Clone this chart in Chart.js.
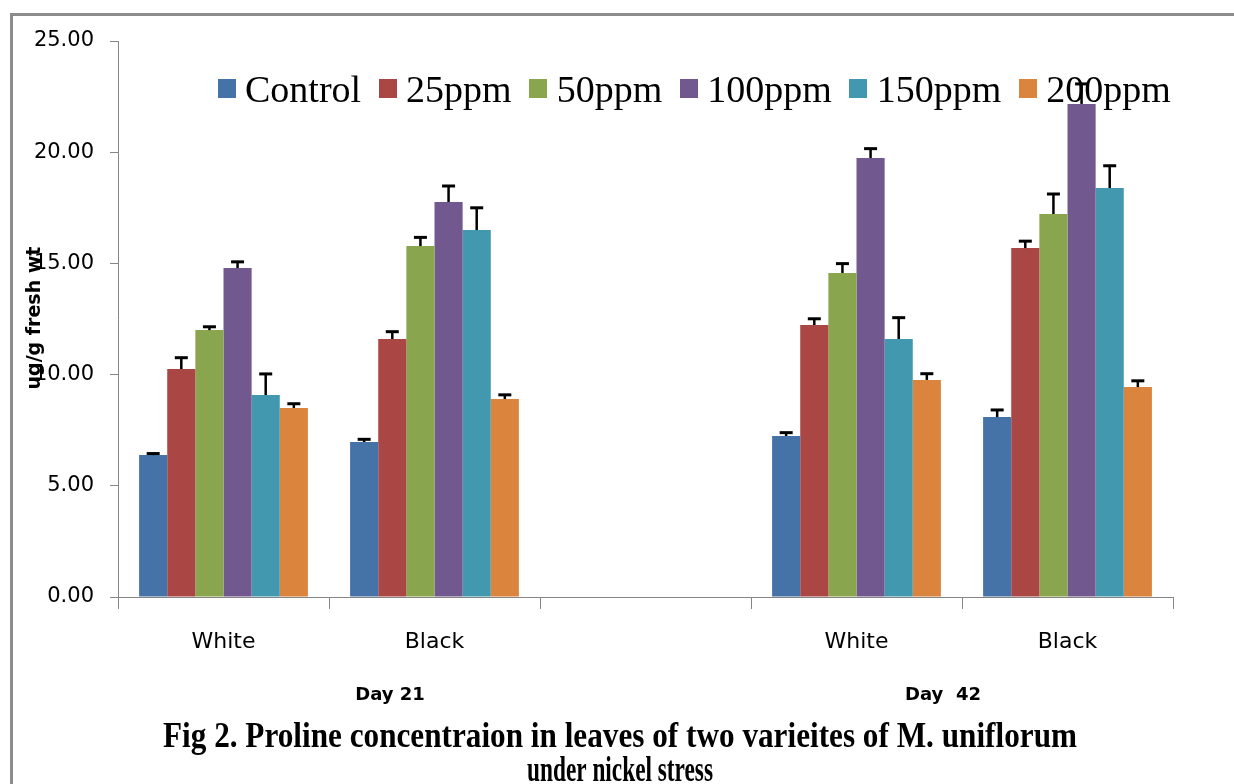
<!DOCTYPE html>
<html>
<head>
<meta charset="utf-8">
<script src="https://cdn.jsdelivr.net/npm/chart.js@4/dist/chart.umd.min.js"></script>
<style>
  html, body { margin: 0; padding: 0; background: #fff; }
  #wrap { position: relative; width: 1234px; height: 784px; overflow: hidden; }
  #frame { position: absolute; left: 10px; top: 13px; width: 1300px; height: 900px;
           border-left: 3px solid #8c8c8c; border-top: 3px solid #8c8c8c; pointer-events: none; }
  canvas { position: absolute; left: 0; top: 0; }
</style>
</head>
<body>
<div id="wrap">
  <canvas id="chart" width="1234" height="784"></canvas>
  <div id="frame"></div>
</div>
<script>
// Proline concentration (ug/g fresh wt) by variety, harvest day and nickel dose
const categories = ['White', 'Black', '', 'White', 'Black'];
const seriesNames = ['Control', '25ppm', '50ppm', '100ppm', '150ppm', '200ppm'];

const control = [6.38, 6.97, null, 7.24, 8.09];
const ppm25   = [10.25, 11.60, null, 12.23, 15.69];
const ppm50   = [12.00, 15.78, null, 14.57, 17.22];
const ppm100  = [14.79, 17.76, null, 19.74, 22.17];
const ppm150  = [9.08, 16.50, null, 11.60, 18.39];
const ppm200  = [8.50, 8.90, null, 9.76, 9.44];

// standard error (upper bar only)
const controlErr = [0.07, 0.12, null, 0.15, 0.32];
const ppm25Err   = [0.51, 0.33, null, 0.28, 0.31];
const ppm50Err   = [0.15, 0.39, null, 0.42, 0.90];
const ppm100Err  = [0.28, 0.72, null, 0.42, 0.90];
const ppm150Err  = [0.95, 1.00, null, 0.96, 1.00];
const ppm200Err  = [0.19, 0.19, null, 0.28, 0.28];

const yTicks = [0, 5, 10, 15, 20, 25];
const dayLabels = ['Day 21', 'Day  42'];
const captionLines = ['Fig 2. Proline concentraion in leaves of two varieites of M. uniflorum',
                      'under nickel stress'];
const yTitle = 'ug/g fresh wt';

const colors = ['#4572A7', '#AA4643', '#89A54E', '#71588F', '#4198AF', '#DB843D'];
const values = [control, ppm25, ppm50, ppm100, ppm150, ppm200];
const errors = [controlErr, ppm25Err, ppm50Err, ppm100Err, ppm150Err, ppm200Err];

const datasets = seriesNames.map((name, i) => ({
  label: name,
  data: values[i],
  errors: errors[i],
  backgroundColor: colors[i],
  borderWidth: 0,
  categoryPercentage: 0.8,
  barPercentage: 1.0
}));

const SANS = '"DejaVu Sans", sans-serif';
const SERIF = '"Liberation Serif", "Times New Roman", serif';

// legend drawn inside the plot area, under the bars
const legendPlugin = {
  id: 'inlineLegend',
  beforeDatasetsDraw(chart) {
    const ctx = chart.ctx;
    ctx.save();
    ctx.font = '38px ' + SERIF;
    ctx.textBaseline = 'alphabetic';
    ctx.textAlign = 'left';
    let x = 217.5;
    chart.data.datasets.forEach(ds => {
      ctx.fillStyle = ds.backgroundColor;
      ctx.fillRect(Math.round(x), 79, 18, 19);
      ctx.fillStyle = '#000';
      const tx = x + 27.5;
      ctx.fillText(ds.label, tx, 102);
      x = tx + ctx.measureText(ds.label).width + 17.5;
    });
    ctx.restore();
  }
};

// upper error bars
const errorBarPlugin = {
  id: 'errorBars',
  afterDatasetsDraw(chart) {
    const ctx = chart.ctx;
    const y = chart.scales.y;
    ctx.save();
    ctx.strokeStyle = '#000';
    chart.data.datasets.forEach((ds, di) => {
      const meta = chart.getDatasetMeta(di);
      meta.data.forEach((bar, i) => {
        const v = ds.data[i], e = ds.errors[i];
        if (v == null || e == null) return;
        const top = y.getPixelForValue(v + e);
        const base = y.getPixelForValue(v);
        ctx.lineWidth = 2.5;
        ctx.beginPath();
        ctx.moveTo(bar.x, base);
        ctx.lineTo(bar.x, top);
        ctx.stroke();
        ctx.lineWidth = 3;
        ctx.beginPath();
        ctx.moveTo(bar.x - 6.5, top);
        ctx.lineTo(bar.x + 6.5, top);
        ctx.stroke();
      });
    });
    ctx.restore();
  }
};

// axis title, day labels and caption
const textPlugin = {
  id: 'annotations',
  afterDraw(chart) {
    const ctx = chart.ctx;
    ctx.save();
    ctx.fillStyle = '#000';
    // y axis title
    ctx.save();
    ctx.translate(40, 318);
    ctx.rotate(-Math.PI / 2);
    ctx.font = 'bold 19px ' + SANS;
    ctx.textAlign = 'center';
    ctx.textBaseline = 'alphabetic';
    ctx.fillText(yTitle, 0, 0);
    ctx.restore();
    // harvest day labels
    ctx.font = 'bold 18px ' + SANS;
    ctx.textAlign = 'center';
    ctx.textBaseline = 'alphabetic';
    ctx.fillText(dayLabels[0], 390, 700);
    ctx.fillText(dayLabels[1], 943, 700);
    // caption
    ctx.font = 'bold 35px ' + SERIF;
    ctx.fillText(captionLines[0], 620, 747, 914);
    ctx.fillText(captionLines[1], 620, 781, 186);
    ctx.restore();
  }
};

new Chart(document.getElementById('chart'), {
  type: 'bar',
  data: { labels: categories, datasets },
  plugins: [legendPlugin, errorBarPlugin, textPlugin],
  options: {
    responsive: false,
    animation: false,
    layout: { padding: { left: 0, right: 61, top: 41, bottom: 0 } },
    plugins: {
      legend: { display: false },
      tooltip: { enabled: false },
      title: { display: false }
    },
    scales: {
      x: {
        offset: true,
        grid: {
          offset: true,
          drawOnChartArea: false,
          drawTicks: true,
          tickLength: 12,
          color: '#868686',
          lineWidth: 1
        },
        border: { color: '#868686', width: 1 },
        ticks: {
          color: '#000',
          font: { family: SANS, size: 22 },
          padding: 20,
          maxRotation: 0
        },
        afterFit(scale) { scale.height = 187; }
      },
      y: {
        min: 0,
        max: 25,
        afterBuildTicks(scale) { scale.ticks = yTicks.map(v => ({ value: v })); },
        grid: {
          drawOnChartArea: false,
          drawTicks: true,
          tickLength: 8,
          color: '#868686'
        },
        border: { color: '#868686', width: 1 },
        ticks: {
          color: '#000',
          font: { family: SANS, size: 21 },
          padding: 16,
          callback: v => v.toFixed(2)
        },
        afterFit(scale) { scale.width = 118; }
      }
    }
  }
});
</script>
</body>
</html>
